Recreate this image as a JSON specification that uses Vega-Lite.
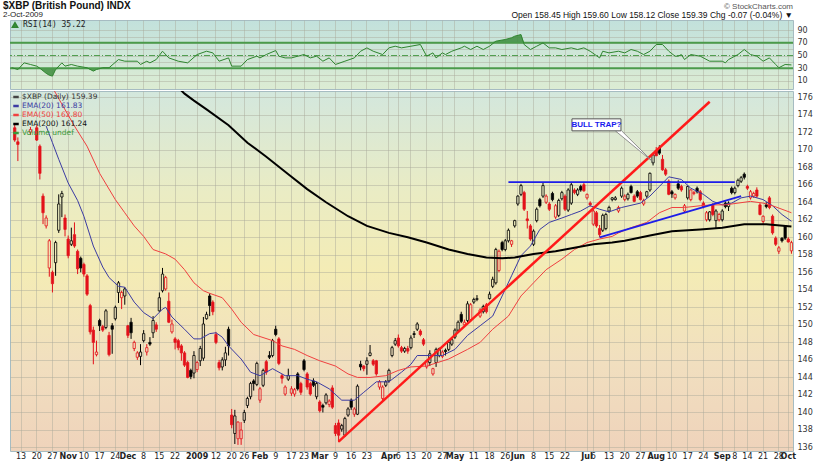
{
"$schema":"https://vega.github.io/schema/vega-lite/v6.json",
"background":"#ffffff",
"padding":{"left":3,"top":1,"right":4,"bottom":0},
"title":{"text":"$XBP (British Pound) INDX","subtitle":"2-Oct-2009","anchor":"start","frame":"group","font":"Liberation Sans","fontSize":10,"fontWeight":"bold","color":"#111111","subtitleFont":"Liberation Sans","subtitleFontSize":8,"subtitleColor":"#222222","subtitlePadding":0,"offset":-17,"dx":-7},
"spacing":0,
"resolve":{"scale":{"x":"shared","color":"independent"},"axis":{"x":"independent"},"legend":{"color":"independent"}},
"datasets":{
"candles":[
{"d":"2008-10-08","o":177.2,"h":178.4,"l":176.9,"c":177.8},
{"d":"2008-10-09","o":172.5,"h":173.0,"l":170.9,"c":171.1},
{"d":"2008-10-10","o":170.9,"h":171.4,"l":168.7,"c":170.6},
{"d":"2008-10-13","o":177.2,"h":178.6,"l":176.9,"c":178.0},
{"d":"2008-10-14","o":178.0,"h":179.0,"l":177.0,"c":177.4},
{"d":"2008-10-15","o":177.4,"h":177.8,"l":176.9,"c":177.0},
{"d":"2008-10-16","o":172.0,"h":172.6,"l":171.7,"c":172.3},
{"d":"2008-10-17","o":177.0,"h":177.6,"l":176.8,"c":177.3},
{"d":"2008-10-20","o":172.5,"h":172.8,"l":171.0,"c":171.1},
{"d":"2008-10-21","o":170.4,"h":170.6,"l":166.6,"c":167.3},
{"d":"2008-10-22","o":164.7,"h":165.0,"l":161.5,"c":162.8},
{"d":"2008-10-23","o":161.3,"h":162.5,"l":161.0,"c":162.2},
{"d":"2008-10-24","o":156.5,"h":159.8,"l":155.5,"c":159.6},
{"d":"2008-10-27","o":156.0,"h":156.2,"l":153.7,"c":154.7},
{"d":"2008-10-28","o":157.1,"h":159.6,"l":155.6,"c":159.4},
{"d":"2008-10-29","o":160.8,"h":164.9,"l":160.5,"c":163.8},
{"d":"2008-10-30","o":164.6,"h":165.3,"l":162.3,"c":165.0},
{"d":"2008-10-31","o":162.2,"h":162.6,"l":160.1,"c":160.9},
{"d":"2008-11-03","o":159.8,"h":160.2,"l":157.6,"c":157.9},
{"d":"2008-11-04","o":159.2,"h":161.1,"l":159.0,"c":159.6},
{"d":"2008-11-05","o":160.3,"h":161.7,"l":158.8,"c":159.0},
{"d":"2008-11-06","o":158.4,"h":158.6,"l":155.8,"c":156.4},
{"d":"2008-11-07","o":157.6,"h":157.8,"l":156.0,"c":156.5},
{"d":"2008-11-10","o":156.9,"h":157.1,"l":155.5,"c":155.8},
{"d":"2008-11-11","o":155.6,"h":155.8,"l":153.3,"c":153.5},
{"d":"2008-11-12","o":152.2,"h":152.4,"l":148.9,"c":149.2},
{"d":"2008-11-13","o":149.4,"h":149.8,"l":145.5,"c":148.0},
{"d":"2008-11-14","o":146.6,"h":148.2,"l":146.4,"c":146.9},
{"d":"2008-11-17","o":150.5,"h":150.7,"l":149.3,"c":149.9},
{"d":"2008-11-18","o":149.8,"h":150.0,"l":149.2,"c":149.4},
{"d":"2008-11-19","o":149.7,"h":151.8,"l":149.5,"c":151.6},
{"d":"2008-11-20","o":148.8,"h":149.2,"l":146.4,"c":146.6},
{"d":"2008-11-21","o":149.9,"h":150.2,"l":146.7,"c":149.5},
{"d":"2008-11-24","o":150.7,"h":152.2,"l":150.5,"c":152.0},
{"d":"2008-11-25","o":153.7,"h":155.0,"l":152.5,"c":154.8},
{"d":"2008-11-26","o":153.1,"h":153.9,"l":151.8,"c":153.7},
{"d":"2008-11-28","o":153.3,"h":154.3,"l":152.3,"c":154.1},
{"d":"2008-12-01","o":149.9,"h":150.0,"l":148.5,"c":148.8},
{"d":"2008-12-02","o":150.3,"h":150.8,"l":148.4,"c":149.1},
{"d":"2008-12-03","o":147.3,"h":148.2,"l":147.0,"c":148.0},
{"d":"2008-12-04","o":146.3,"h":147.0,"l":146.0,"c":146.8},
{"d":"2008-12-05","o":146.4,"h":147.8,"l":145.4,"c":146.9},
{"d":"2008-12-08","o":148.2,"h":149.4,"l":148.0,"c":149.0},
{"d":"2008-12-09","o":146.9,"h":147.8,"l":146.5,"c":147.4},
{"d":"2008-12-10","o":148.0,"h":148.6,"l":147.6,"c":147.8},
{"d":"2008-12-11","o":149.1,"h":151.0,"l":148.5,"c":150.5},
{"d":"2008-12-12","o":150.0,"h":150.3,"l":149.2,"c":149.5},
{"d":"2008-12-15","o":151.6,"h":153.7,"l":151.5,"c":153.1},
{"d":"2008-12-16","o":153.9,"h":156.5,"l":153.7,"c":155.8},
{"d":"2008-12-17","o":154.1,"h":155.6,"l":153.9,"c":155.4},
{"d":"2008-12-18","o":152.7,"h":153.7,"l":150.2,"c":150.3},
{"d":"2008-12-19","o":149.2,"h":150.6,"l":149.0,"c":150.1},
{"d":"2008-12-22","o":148.4,"h":148.6,"l":147.2,"c":148.0},
{"d":"2008-12-23","o":148.2,"h":148.4,"l":147.1,"c":147.4},
{"d":"2008-12-24","o":147.6,"h":147.8,"l":145.9,"c":146.8},
{"d":"2008-12-26","o":146.8,"h":147.0,"l":145.2,"c":145.4},
{"d":"2008-12-29","o":145.7,"h":145.9,"l":143.9,"c":144.0},
{"d":"2008-12-30","o":144.8,"h":145.0,"l":143.8,"c":144.1},
{"d":"2008-12-31","o":144.5,"h":147.0,"l":143.9,"c":146.5},
{"d":"2009-01-02","o":144.9,"h":145.9,"l":144.6,"c":145.7},
{"d":"2009-01-05","o":145.9,"h":147.6,"l":145.3,"c":147.3},
{"d":"2009-01-06","o":146.2,"h":150.9,"l":145.9,"c":150.1},
{"d":"2009-01-07","o":150.7,"h":151.5,"l":150.6,"c":151.2},
{"d":"2009-01-08","o":153.3,"h":153.6,"l":151.0,"c":152.2},
{"d":"2009-01-09","o":152.6,"h":152.8,"l":151.1,"c":151.5},
{"d":"2009-01-12","o":148.9,"h":149.2,"l":147.8,"c":148.0},
{"d":"2009-01-13","o":145.7,"h":146.0,"l":144.8,"c":145.1},
{"d":"2009-01-14","o":145.2,"h":146.3,"l":144.8,"c":146.0},
{"d":"2009-01-15","o":146.0,"h":147.5,"l":145.3,"c":146.8},
{"d":"2009-01-16","o":149.5,"h":149.8,"l":146.5,"c":147.6},
{"d":"2009-01-20","o":139.7,"h":140.4,"l":138.2,"c":138.6},
{"d":"2009-01-21","o":137.6,"h":140.3,"l":136.4,"c":139.6},
{"d":"2009-01-22","o":137.0,"h":139.0,"l":136.3,"c":138.9},
{"d":"2009-01-23","o":137.0,"h":138.9,"l":136.3,"c":138.0},
{"d":"2009-01-26","o":139.1,"h":140.3,"l":138.8,"c":140.0},
{"d":"2009-01-27","o":140.8,"h":141.8,"l":140.5,"c":141.6},
{"d":"2009-01-28","o":141.8,"h":143.5,"l":141.5,"c":143.3},
{"d":"2009-01-29","o":143.6,"h":143.8,"l":142.5,"c":143.3},
{"d":"2009-01-30","o":143.2,"h":145.8,"l":143.0,"c":145.6},
{"d":"2009-02-02","o":141.4,"h":142.9,"l":141.1,"c":142.7},
{"d":"2009-02-03","o":143.1,"h":145.0,"l":142.9,"c":144.8},
{"d":"2009-02-04","o":145.8,"h":146.0,"l":144.3,"c":144.6},
{"d":"2009-02-05","o":146.5,"h":147.0,"l":146.1,"c":146.3},
{"d":"2009-02-06","o":146.5,"h":148.4,"l":146.3,"c":148.2},
{"d":"2009-02-09","o":149.5,"h":149.9,"l":148.7,"c":148.9},
{"d":"2009-02-10","o":148.4,"h":148.6,"l":145.4,"c":145.6},
{"d":"2009-02-11","o":144.2,"h":144.4,"l":143.3,"c":143.9},
{"d":"2009-02-12","o":142.1,"h":143.1,"l":141.9,"c":142.9},
{"d":"2009-02-13","o":143.8,"h":145.0,"l":143.6,"c":144.2},
{"d":"2009-02-17","o":142.2,"h":143.0,"l":141.9,"c":142.7},
{"d":"2009-02-18","o":142.1,"h":142.8,"l":141.8,"c":142.6},
{"d":"2009-02-19","o":144.4,"h":144.6,"l":142.5,"c":142.7},
{"d":"2009-02-20","o":143.3,"h":143.5,"l":142.0,"c":142.3},
{"d":"2009-02-23","o":145.9,"h":146.1,"l":144.7,"c":144.9},
{"d":"2009-02-24","o":144.4,"h":144.6,"l":142.6,"c":142.9},
{"d":"2009-02-25","o":143.3,"h":143.5,"l":141.9,"c":142.1},
{"d":"2009-02-26","o":143.6,"h":143.9,"l":142.9,"c":143.1},
{"d":"2009-02-27","o":141.8,"h":143.5,"l":141.5,"c":143.3},
{"d":"2009-03-02","o":141.2,"h":141.4,"l":140.0,"c":140.2},
{"d":"2009-03-03","o":140.8,"h":141.0,"l":140.0,"c":140.6},
{"d":"2009-03-04","o":141.1,"h":142.2,"l":140.9,"c":142.0},
{"d":"2009-03-05","o":140.9,"h":141.5,"l":140.6,"c":141.3},
{"d":"2009-03-06","o":142.8,"h":143.1,"l":140.4,"c":140.6},
{"d":"2009-03-09","o":138.5,"h":138.8,"l":137.3,"c":137.6},
{"d":"2009-03-10","o":138.8,"h":139.2,"l":136.6,"c":137.4},
{"d":"2009-03-11","o":138.1,"h":138.7,"l":137.8,"c":138.5},
{"d":"2009-03-12","o":137.4,"h":139.5,"l":137.2,"c":139.3},
{"d":"2009-03-13","o":139.7,"h":140.6,"l":139.5,"c":140.4},
{"d":"2009-03-16","o":141.4,"h":141.6,"l":140.3,"c":140.6},
{"d":"2009-03-17","o":139.8,"h":140.6,"l":139.5,"c":140.4},
{"d":"2009-03-18","o":139.8,"h":143.2,"l":139.7,"c":143.0},
{"d":"2009-03-19","o":145.5,"h":145.9,"l":144.8,"c":145.2},
{"d":"2009-03-20","o":145.3,"h":145.4,"l":144.7,"c":145.0},
{"d":"2009-03-23","o":145.5,"h":146.3,"l":144.3,"c":145.9},
{"d":"2009-03-24","o":146.5,"h":147.7,"l":146.4,"c":146.8},
{"d":"2009-03-25","o":145.9,"h":146.1,"l":145.3,"c":145.5},
{"d":"2009-03-26","o":145.9,"h":146.0,"l":144.2,"c":144.4},
{"d":"2009-03-27","o":142.9,"h":143.7,"l":142.6,"c":143.5},
{"d":"2009-03-30","o":141.6,"h":143.1,"l":141.3,"c":142.9},
{"d":"2009-03-31","o":143.1,"h":143.7,"l":142.9,"c":143.5},
{"d":"2009-04-01","o":143.6,"h":145.0,"l":143.4,"c":144.8},
{"d":"2009-04-02","o":146.5,"h":147.6,"l":146.3,"c":147.4},
{"d":"2009-04-03","o":147.8,"h":148.5,"l":147.6,"c":148.2},
{"d":"2009-04-06","o":148.5,"h":148.9,"l":147.4,"c":147.6},
{"d":"2009-04-07","o":147.4,"h":147.6,"l":146.8,"c":147.0},
{"d":"2009-04-08","o":147.0,"h":147.5,"l":146.8,"c":147.3},
{"d":"2009-04-09","o":147.3,"h":147.6,"l":146.7,"c":147.0},
{"d":"2009-04-13","o":147.4,"h":148.8,"l":147.2,"c":148.5},
{"d":"2009-04-14","o":149.0,"h":149.3,"l":148.5,"c":148.9},
{"d":"2009-04-15","o":149.5,"h":150.3,"l":149.3,"c":150.1},
{"d":"2009-04-16","o":149.3,"h":149.5,"l":148.7,"c":148.9},
{"d":"2009-04-17","o":148.3,"h":148.5,"l":147.6,"c":147.8},
{"d":"2009-04-20","o":145.2,"h":146.0,"l":145.0,"c":145.9},
{"d":"2009-04-21","o":145.7,"h":147.1,"l":145.3,"c":146.7},
{"d":"2009-04-22","o":144.4,"h":145.1,"l":144.2,"c":145.0},
{"d":"2009-04-23","o":145.7,"h":147.4,"l":145.2,"c":147.2},
{"d":"2009-04-24","o":146.5,"h":147.4,"l":146.3,"c":147.3},
{"d":"2009-04-27","o":146.4,"h":147.1,"l":146.2,"c":146.9},
{"d":"2009-04-28","o":147.1,"h":147.3,"l":146.5,"c":146.95},
{"d":"2009-04-29","o":147.2,"h":148.2,"l":147.0,"c":148.0},
{"d":"2009-04-30","o":147.8,"h":148.6,"l":147.6,"c":148.3},
{"d":"2009-05-01","o":148.6,"h":149.6,"l":148.4,"c":149.4},
{"d":"2009-05-04","o":149.4,"h":150.5,"l":149.2,"c":150.3},
{"d":"2009-05-05","o":151.2,"h":151.5,"l":150.2,"c":150.4},
{"d":"2009-05-06","o":150.0,"h":150.6,"l":149.8,"c":150.3},
{"d":"2009-05-07","o":150.5,"h":152.7,"l":150.3,"c":152.4},
{"d":"2009-05-08","o":150.6,"h":152.5,"l":150.4,"c":152.3},
{"d":"2009-05-11","o":152.6,"h":153.1,"l":152.4,"c":152.9},
{"d":"2009-05-12","o":152.9,"h":153.4,"l":152.7,"c":153.0},
{"d":"2009-05-13","o":151.0,"h":151.9,"l":150.8,"c":151.7},
{"d":"2009-05-14","o":151.5,"h":152.3,"l":151.3,"c":152.1},
{"d":"2009-05-15","o":152.3,"h":152.5,"l":151.3,"c":151.5},
{"d":"2009-05-18","o":153.0,"h":153.8,"l":152.9,"c":153.5},
{"d":"2009-05-19","o":154.4,"h":155.5,"l":154.2,"c":155.2},
{"d":"2009-05-20","o":154.8,"h":158.8,"l":154.6,"c":158.6},
{"d":"2009-05-21","o":156.2,"h":158.6,"l":156.0,"c":158.4},
{"d":"2009-05-22","o":159.4,"h":159.6,"l":158.4,"c":158.6},
{"d":"2009-05-26","o":158.6,"h":159.8,"l":158.4,"c":159.6},
{"d":"2009-05-27","o":159.6,"h":161.0,"l":159.4,"c":160.8},
{"d":"2009-05-28","o":159.2,"h":159.7,"l":158.9,"c":159.6},
{"d":"2009-05-29","o":161.3,"h":162.0,"l":161.1,"c":161.9},
{"d":"2009-06-01","o":163.8,"h":164.8,"l":163.6,"c":164.7},
{"d":"2009-06-02","o":164.9,"h":166.1,"l":164.7,"c":165.9},
{"d":"2009-06-03","o":165.1,"h":165.3,"l":163.0,"c":163.2},
{"d":"2009-06-04","o":162.1,"h":163.0,"l":161.0,"c":161.9},
{"d":"2009-06-05","o":161.3,"h":161.5,"l":159.6,"c":159.8},
{"d":"2009-06-08","o":159.2,"h":160.9,"l":159.0,"c":160.7},
{"d":"2009-06-09","o":161.9,"h":163.4,"l":161.7,"c":163.2},
{"d":"2009-06-10","o":164.3,"h":164.5,"l":163.4,"c":163.6},
{"d":"2009-06-11","o":164.7,"h":166.3,"l":164.5,"c":165.9},
{"d":"2009-06-12","o":164.0,"h":164.9,"l":163.8,"c":164.7},
{"d":"2009-06-15","o":163.8,"h":164.0,"l":163.0,"c":163.2},
{"d":"2009-06-16","o":165.0,"h":165.2,"l":164.1,"c":164.3},
{"d":"2009-06-17","o":162.3,"h":163.8,"l":162.1,"c":163.6},
{"d":"2009-06-18","o":162.5,"h":164.4,"l":162.3,"c":164.2},
{"d":"2009-06-19","o":164.4,"h":165.3,"l":164.2,"c":165.1},
{"d":"2009-06-22","o":164.7,"h":164.9,"l":163.0,"c":163.2},
{"d":"2009-06-23","o":163.1,"h":165.6,"l":162.9,"c":165.4},
{"d":"2009-06-24","o":163.9,"h":166.2,"l":163.7,"c":166.0},
{"d":"2009-06-25","o":165.4,"h":165.6,"l":164.9,"c":165.1},
{"d":"2009-06-26","o":164.9,"h":165.6,"l":164.7,"c":165.4},
{"d":"2009-06-29","o":165.8,"h":166.0,"l":165.2,"c":165.4},
{"d":"2009-06-30","o":166.0,"h":166.3,"l":165.2,"c":165.3},
{"d":"2009-07-01","o":164.5,"h":165.0,"l":164.3,"c":164.9},
{"d":"2009-07-02","o":163.9,"h":164.1,"l":163.5,"c":163.7},
{"d":"2009-07-06","o":161.5,"h":163.2,"l":161.3,"c":163.0},
{"d":"2009-07-07","o":162.8,"h":163.0,"l":161.1,"c":161.3},
{"d":"2009-07-08","o":161.0,"h":161.4,"l":160.0,"c":160.3},
{"d":"2009-07-09","o":160.8,"h":162.7,"l":160.6,"c":162.5},
{"d":"2009-07-10","o":161.0,"h":162.8,"l":160.8,"c":162.6},
{"d":"2009-07-13","o":163.0,"h":163.6,"l":162.8,"c":163.4},
{"d":"2009-07-14","o":164.3,"h":164.6,"l":164.1,"c":164.5},
{"d":"2009-07-15","o":164.3,"h":164.7,"l":164.2,"c":164.5},
{"d":"2009-07-16","o":163.0,"h":163.6,"l":162.8,"c":163.4},
{"d":"2009-07-17","o":164.7,"h":165.8,"l":164.5,"c":165.6},
{"d":"2009-07-20","o":164.3,"h":164.9,"l":164.1,"c":164.7},
{"d":"2009-07-21","o":164.4,"h":165.1,"l":164.2,"c":164.9},
{"d":"2009-07-22","o":165.8,"h":166.0,"l":165.0,"c":165.1},
{"d":"2009-07-23","o":164.7,"h":164.9,"l":164.0,"c":164.1},
{"d":"2009-07-24","o":165.2,"h":165.4,"l":164.5,"c":164.7},
{"d":"2009-07-27","o":165.1,"h":165.3,"l":164.2,"c":164.3},
{"d":"2009-07-28","o":163.8,"h":164.4,"l":163.6,"c":164.2},
{"d":"2009-07-29","o":164.7,"h":165.3,"l":164.5,"c":165.2},
{"d":"2009-07-30","o":165.4,"h":167.4,"l":165.2,"c":167.3},
{"d":"2009-07-31","o":168.5,"h":169.6,"l":168.2,"c":169.4},
{"d":"2009-08-03","o":169.9,"h":170.3,"l":169.3,"c":169.3},
{"d":"2009-08-04","o":170.2,"h":170.5,"l":169.4,"c":169.6},
{"d":"2009-08-05","o":168.9,"h":169.4,"l":167.6,"c":167.7},
{"d":"2009-08-06","o":167.7,"h":167.9,"l":167.0,"c":167.2},
{"d":"2009-08-07","o":166.4,"h":166.6,"l":164.8,"c":164.9},
{"d":"2009-08-10","o":165.2,"h":165.4,"l":164.5,"c":164.95},
{"d":"2009-08-11","o":164.5,"h":165.0,"l":164.3,"c":164.9},
{"d":"2009-08-12","o":166.1,"h":166.5,"l":165.4,"c":165.6},
{"d":"2009-08-13","o":165.8,"h":166.0,"l":165.2,"c":165.4},
{"d":"2009-08-14","o":163.0,"h":163.8,"l":162.8,"c":163.6},
{"d":"2009-08-17","o":164.5,"h":165.9,"l":164.3,"c":165.8},
{"d":"2009-08-18","o":164.3,"h":165.5,"l":164.1,"c":165.4},
{"d":"2009-08-19","o":165.0,"h":165.3,"l":164.8,"c":165.1},
{"d":"2009-08-20","o":165.6,"h":165.8,"l":165.0,"c":165.2},
{"d":"2009-08-21","o":165.2,"h":165.4,"l":164.1,"c":164.3},
{"d":"2009-08-24","o":163.9,"h":164.1,"l":163.3,"c":163.5},
{"d":"2009-08-25","o":162.0,"h":163.0,"l":161.8,"c":162.8},
{"d":"2009-08-26","o":162.0,"h":163.0,"l":161.8,"c":162.9},
{"d":"2009-08-27","o":163.7,"h":163.9,"l":162.4,"c":162.6},
{"d":"2009-08-28","o":161.9,"h":163.2,"l":161.0,"c":163.0},
{"d":"2009-08-31","o":162.0,"h":162.8,"l":161.8,"c":162.6},
{"d":"2009-09-01","o":162.0,"h":163.2,"l":161.8,"c":163.0},
{"d":"2009-09-02","o":163.9,"h":164.1,"l":163.3,"c":163.5},
{"d":"2009-09-03","o":163.5,"h":164.1,"l":163.0,"c":163.9},
{"d":"2009-09-04","o":165.6,"h":165.8,"l":164.9,"c":165.1},
{"d":"2009-09-08","o":165.1,"h":165.8,"l":164.9,"c":165.6},
{"d":"2009-09-09","o":165.9,"h":166.7,"l":165.7,"c":166.5},
{"d":"2009-09-10","o":166.4,"h":167.0,"l":166.2,"c":166.8},
{"d":"2009-09-11","o":167.2,"h":167.4,"l":166.6,"c":166.85},
{"d":"2009-09-14","o":165.8,"h":166.0,"l":165.4,"c":165.6},
{"d":"2009-09-15","o":164.5,"h":165.4,"l":164.3,"c":165.2},
{"d":"2009-09-16","o":164.7,"h":165.2,"l":164.5,"c":165.0},
{"d":"2009-09-17","o":165.4,"h":165.7,"l":164.5,"c":164.7},
{"d":"2009-09-18","o":163.7,"h":163.9,"l":162.5,"c":162.6},
{"d":"2009-09-21","o":161.8,"h":162.5,"l":161.5,"c":162.4},
{"d":"2009-09-22","o":163.7,"h":164.0,"l":163.3,"c":163.5},
{"d":"2009-09-23","o":164.5,"h":164.7,"l":163.2,"c":163.4},
{"d":"2009-09-24","o":162.4,"h":162.6,"l":160.3,"c":160.5},
{"d":"2009-09-25","o":159.9,"h":160.1,"l":159.0,"c":159.2},
{"d":"2009-09-28","o":158.4,"h":159.0,"l":158.1,"c":158.8},
{"d":"2009-09-29","o":159.9,"h":160.0,"l":159.4,"c":159.6},
{"d":"2009-09-30","o":161.3,"h":161.4,"l":159.7,"c":159.9},
{"d":"2009-10-01","o":159.8,"h":160.0,"l":159.4,"c":159.46},
{"d":"2009-10-02","o":158.45,"h":159.6,"l":158.12,"c":159.39}
],
"ema":[
{"d":"2008-10-23","s":"EMA(20) 161.83","v":172.7},{"d":"2008-10-27","s":"EMA(20) 161.83","v":170.8},{"d":"2008-10-29","s":"EMA(20) 161.83","v":168.9},{"d":"2008-11-03","s":"EMA(20) 161.83","v":166.2},{"d":"2008-11-06","s":"EMA(20) 161.83","v":164.2},{"d":"2008-11-10","s":"EMA(20) 161.83","v":162.4},{"d":"2008-11-13","s":"EMA(20) 161.83","v":159.0},{"d":"2008-11-18","s":"EMA(20) 161.83","v":156.6},{"d":"2008-11-20","s":"EMA(20) 161.83","v":155.4},{"d":"2008-11-25","s":"EMA(20) 161.83","v":154.4},{"d":"2008-11-28","s":"EMA(20) 161.83","v":154.3},{"d":"2008-12-03","s":"EMA(20) 161.83","v":152.6},{"d":"2008-12-08","s":"EMA(20) 161.83","v":151.4},{"d":"2008-12-11","s":"EMA(20) 161.83","v":150.7},{"d":"2008-12-16","s":"EMA(20) 161.83","v":151.8},{"d":"2008-12-17","s":"EMA(20) 161.83","v":152.0},{"d":"2008-12-19","s":"EMA(20) 161.83","v":150.9},{"d":"2008-12-26","s":"EMA(20) 161.83","v":149.5},{"d":"2008-12-31","s":"EMA(20) 161.83","v":148.4},{"d":"2009-01-05","s":"EMA(20) 161.83","v":148.4},{"d":"2009-01-08","s":"EMA(20) 161.83","v":149.0},{"d":"2009-01-12","s":"EMA(20) 161.83","v":149.1},{"d":"2009-01-14","s":"EMA(20) 161.83","v":148.6},{"d":"2009-01-16","s":"EMA(20) 161.83","v":147.6},{"d":"2009-01-23","s":"EMA(20) 161.83","v":146.1},{"d":"2009-01-28","s":"EMA(20) 161.83","v":144.6},{"d":"2009-02-02","s":"EMA(20) 161.83","v":144.2},{"d":"2009-02-06","s":"EMA(20) 161.83","v":145.0},{"d":"2009-02-12","s":"EMA(20) 161.83","v":144.2},{"d":"2009-02-19","s":"EMA(20) 161.83","v":144.2},{"d":"2009-02-24","s":"EMA(20) 161.83","v":143.8},{"d":"2009-02-27","s":"EMA(20) 161.83","v":143.5},{"d":"2009-03-05","s":"EMA(20) 161.83","v":142.7},{"d":"2009-03-11","s":"EMA(20) 161.83","v":141.4},{"d":"2009-03-17","s":"EMA(20) 161.83","v":141.4},{"d":"2009-03-20","s":"EMA(20) 161.83","v":142.3},{"d":"2009-03-26","s":"EMA(20) 161.83","v":143.5},{"d":"2009-04-01","s":"EMA(20) 161.83","v":143.5},{"d":"2009-04-07","s":"EMA(20) 161.83","v":144.6},{"d":"2009-04-13","s":"EMA(20) 161.83","v":145.5},{"d":"2009-04-15","s":"EMA(20) 161.83","v":146.5},{"d":"2009-04-21","s":"EMA(20) 161.83","v":146.5},{"d":"2009-04-27","s":"EMA(20) 161.83","v":146.5},{"d":"2009-05-01","s":"EMA(20) 161.83","v":147.2},{"d":"2009-05-07","s":"EMA(20) 161.83","v":148.8},{"d":"2009-05-13","s":"EMA(20) 161.83","v":149.9},{"d":"2009-05-19","s":"EMA(20) 161.83","v":151.0},{"d":"2009-05-22","s":"EMA(20) 161.83","v":153.3},{"d":"2009-05-28","s":"EMA(20) 161.83","v":155.6},{"d":"2009-06-02","s":"EMA(20) 161.83","v":157.9},{"d":"2009-06-05","s":"EMA(20) 161.83","v":159.0},{"d":"2009-06-10","s":"EMA(20) 161.83","v":160.9},{"d":"2009-06-15","s":"EMA(20) 161.83","v":161.7},{"d":"2009-06-19","s":"EMA(20) 161.83","v":162.2},{"d":"2009-06-24","s":"EMA(20) 161.83","v":162.6},{"d":"2009-06-29","s":"EMA(20) 161.83","v":163.0},{"d":"2009-07-02","s":"EMA(20) 161.83","v":163.6},{"d":"2009-07-08","s":"EMA(20) 161.83","v":163.2},{"d":"2009-07-13","s":"EMA(20) 161.83","v":162.9},{"d":"2009-07-17","s":"EMA(20) 161.83","v":163.4},{"d":"2009-07-27","s":"EMA(20) 161.83","v":163.9},{"d":"2009-07-30","s":"EMA(20) 161.83","v":164.7},{"d":"2009-08-04","s":"EMA(20) 161.83","v":165.8},{"d":"2009-08-07","s":"EMA(20) 161.83","v":166.9},{"d":"2009-08-13","s":"EMA(20) 161.83","v":166.6},{"d":"2009-08-18","s":"EMA(20) 161.83","v":165.6},{"d":"2009-08-24","s":"EMA(20) 161.83","v":164.9},{"d":"2009-08-27","s":"EMA(20) 161.83","v":164.1},{"d":"2009-09-01","s":"EMA(20) 161.83","v":163.7},{"d":"2009-09-04","s":"EMA(20) 161.83","v":163.9},{"d":"2009-09-10","s":"EMA(20) 161.83","v":164.5},{"d":"2009-09-15","s":"EMA(20) 161.83","v":164.7},{"d":"2009-09-21","s":"EMA(20) 161.83","v":164.3},{"d":"2009-09-24","s":"EMA(20) 161.83","v":163.6},{"d":"2009-09-29","s":"EMA(20) 161.83","v":162.6},{"d":"2009-10-02","s":"EMA(20) 161.83","v":161.83},
{"d":"2008-10-27","s":"EMA(50) 162.80","v":177.1},{"d":"2008-10-30","s":"EMA(50) 162.80","v":175.2},{"d":"2008-11-05","s":"EMA(50) 162.80","v":172.7},{"d":"2008-11-11","s":"EMA(50) 162.80","v":170.4},{"d":"2008-11-17","s":"EMA(50) 162.80","v":167.3},{"d":"2008-11-24","s":"EMA(50) 162.80","v":164.3},{"d":"2008-11-28","s":"EMA(50) 162.80","v":162.8},{"d":"2008-12-03","s":"EMA(50) 162.80","v":161.3},{"d":"2008-12-08","s":"EMA(50) 162.80","v":160.1},{"d":"2008-12-11","s":"EMA(50) 162.80","v":158.6},{"d":"2008-12-17","s":"EMA(50) 162.80","v":158.1},{"d":"2008-12-22","s":"EMA(50) 162.80","v":157.5},{"d":"2008-12-26","s":"EMA(50) 162.80","v":156.3},{"d":"2008-12-31","s":"EMA(50) 162.80","v":154.8},{"d":"2009-01-06","s":"EMA(50) 162.80","v":153.9},{"d":"2009-01-08","s":"EMA(50) 162.80","v":153.6},{"d":"2009-01-14","s":"EMA(50) 162.80","v":153.1},{"d":"2009-01-20","s":"EMA(50) 162.80","v":151.8},{"d":"2009-01-23","s":"EMA(50) 162.80","v":150.3},{"d":"2009-01-29","s":"EMA(50) 162.80","v":148.9},{"d":"2009-02-06","s":"EMA(50) 162.80","v":148.2},{"d":"2009-02-11","s":"EMA(50) 162.80","v":147.6},{"d":"2009-02-18","s":"EMA(50) 162.80","v":147.2},{"d":"2009-02-24","s":"EMA(50) 162.80","v":146.5},{"d":"2009-03-02","s":"EMA(50) 162.80","v":145.9},{"d":"2009-03-09","s":"EMA(50) 162.80","v":145.3},{"d":"2009-03-13","s":"EMA(50) 162.80","v":144.4},{"d":"2009-03-18","s":"EMA(50) 162.80","v":144.0},{"d":"2009-03-24","s":"EMA(50) 162.80","v":144.0},{"d":"2009-03-31","s":"EMA(50) 162.80","v":144.2},{"d":"2009-04-06","s":"EMA(50) 162.80","v":144.8},{"d":"2009-04-13","s":"EMA(50) 162.80","v":145.2},{"d":"2009-04-20","s":"EMA(50) 162.80","v":145.3},{"d":"2009-04-29","s":"EMA(50) 162.80","v":146.1},{"d":"2009-05-07","s":"EMA(50) 162.80","v":147.2},{"d":"2009-05-13","s":"EMA(50) 162.80","v":148.0},{"d":"2009-05-19","s":"EMA(50) 162.80","v":149.5},{"d":"2009-05-27","s":"EMA(50) 162.80","v":151.0},{"d":"2009-06-02","s":"EMA(50) 162.80","v":153.3},{"d":"2009-06-08","s":"EMA(50) 162.80","v":154.8},{"d":"2009-06-12","s":"EMA(50) 162.80","v":156.3},{"d":"2009-06-19","s":"EMA(50) 162.80","v":157.5},{"d":"2009-06-25","s":"EMA(50) 162.80","v":158.6},{"d":"2009-07-01","s":"EMA(50) 162.80","v":159.4},{"d":"2009-07-08","s":"EMA(50) 162.80","v":159.8},{"d":"2009-07-14","s":"EMA(50) 162.80","v":160.1},{"d":"2009-07-16","s":"EMA(50) 162.80","v":160.5},{"d":"2009-07-22","s":"EMA(50) 162.80","v":161.1},{"d":"2009-07-29","s":"EMA(50) 162.80","v":161.7},{"d":"2009-08-04","s":"EMA(50) 162.80","v":162.8},{"d":"2009-08-10","s":"EMA(50) 162.80","v":163.4},{"d":"2009-08-14","s":"EMA(50) 162.80","v":163.4},{"d":"2009-08-21","s":"EMA(50) 162.80","v":163.6},{"d":"2009-08-27","s":"EMA(50) 162.80","v":163.7},{"d":"2009-09-02","s":"EMA(50) 162.80","v":163.7},{"d":"2009-09-09","s":"EMA(50) 162.80","v":163.9},{"d":"2009-09-15","s":"EMA(50) 162.80","v":164.1},{"d":"2009-09-21","s":"EMA(50) 162.80","v":163.9},{"d":"2009-09-24","s":"EMA(50) 162.80","v":163.6},{"d":"2009-09-29","s":"EMA(50) 162.80","v":163.2},{"d":"2009-10-02","s":"EMA(50) 162.80","v":162.8},
{"d":"2008-12-23","s":"EMA(200) 161.24","v":177.1},{"d":"2008-12-26","s":"EMA(200) 161.24","v":176.4},{"d":"2008-12-31","s":"EMA(200) 161.24","v":175.6},{"d":"2009-01-07","s":"EMA(200) 161.24","v":174.6},{"d":"2009-01-16","s":"EMA(200) 161.24","v":172.8},{"d":"2009-01-27","s":"EMA(200) 161.24","v":170.8},{"d":"2009-02-04","s":"EMA(200) 161.24","v":169.2},{"d":"2009-02-13","s":"EMA(200) 161.24","v":167.2},{"d":"2009-02-24","s":"EMA(200) 161.24","v":165.5},{"d":"2009-03-04","s":"EMA(200) 161.24","v":164.0},{"d":"2009-03-13","s":"EMA(200) 161.24","v":162.4},{"d":"2009-03-23","s":"EMA(200) 161.24","v":161.3},{"d":"2009-04-01","s":"EMA(200) 161.24","v":160.5},{"d":"2009-04-09","s":"EMA(200) 161.24","v":160.0},{"d":"2009-04-20","s":"EMA(200) 161.24","v":159.4},{"d":"2009-04-29","s":"EMA(200) 161.24","v":158.6},{"d":"2009-05-07","s":"EMA(200) 161.24","v":158.1},{"d":"2009-05-15","s":"EMA(200) 161.24","v":157.7},{"d":"2009-05-22","s":"EMA(200) 161.24","v":157.6},{"d":"2009-05-29","s":"EMA(200) 161.24","v":157.7},{"d":"2009-06-08","s":"EMA(200) 161.24","v":158.1},{"d":"2009-06-17","s":"EMA(200) 161.24","v":158.4},{"d":"2009-06-25","s":"EMA(200) 161.24","v":158.8},{"d":"2009-07-06","s":"EMA(200) 161.24","v":159.2},{"d":"2009-07-14","s":"EMA(200) 161.24","v":159.4},{"d":"2009-07-20","s":"EMA(200) 161.24","v":159.6},{"d":"2009-07-30","s":"EMA(200) 161.24","v":160.2},{"d":"2009-08-10","s":"EMA(200) 161.24","v":160.7},{"d":"2009-08-21","s":"EMA(200) 161.24","v":160.9},{"d":"2009-09-01","s":"EMA(200) 161.24","v":161.1},{"d":"2009-09-11","s":"EMA(200) 161.24","v":161.5},{"d":"2009-09-22","s":"EMA(200) 161.24","v":161.5},{"d":"2009-10-02","s":"EMA(200) 161.24","v":161.24}
],
"trend":[
{"d":"2009-03-10","v":136.67,"g":"up"},{"d":"2009-08-26","v":175.47,"g":"up"},
{"d":"2009-05-27","v":166.3,"g":"hz"},{"d":"2009-09-08","v":166.3,"g":"hz"},
{"d":"2009-07-08","v":160.0,"g":"rise"},{"d":"2009-09-10","v":164.7,"g":"rise"}
],
"pointer":[
{"d":"2009-07-15","v":172.15,"k":1},{"d":"2009-07-31","v":168.6,"k":2},{"d":"2009-07-17","v":172.15,"k":3}
],
"note":[{"d":"2009-07-07","v1":173.52,"v2":172.15,"vm":172.84,"t":"BULL TRAP?"}],
"rsi":[
{"d":"2008-10-08","r":31},{"d":"2008-10-10","r":28},{"d":"2008-10-14","r":38.5},{"d":"2008-10-16","r":35.9},{"d":"2008-10-20","r":33.3},{"d":"2008-10-21","r":30},{"d":"2008-10-22","r":26},{"d":"2008-10-23","r":22},{"d":"2008-10-24","r":19},{"d":"2008-10-27","r":17.6},{"d":"2008-10-28","r":28},{"d":"2008-10-30","r":38.5},{"d":"2008-10-31","r":33.3},{"d":"2008-11-04","r":35.9},{"d":"2008-11-06","r":33.3},{"d":"2008-11-11","r":30.8},{"d":"2008-11-13","r":25.5},{"d":"2008-11-14","r":28},{"d":"2008-11-18","r":30.8},{"d":"2008-11-20","r":30.8},{"d":"2008-11-25","r":43.7},{"d":"2008-11-28","r":41.1},{"d":"2008-12-04","r":41.1},{"d":"2008-12-05","r":35.9},{"d":"2008-12-09","r":41.1},{"d":"2008-12-10","r":38.5},{"d":"2008-12-12","r":43.7},{"d":"2008-12-16","r":56.8},{"d":"2008-12-18","r":46.3},{"d":"2008-12-23","r":41.1},{"d":"2008-12-29","r":38.5},{"d":"2009-01-02","r":51.6},{"d":"2009-01-07","r":56.8},{"d":"2009-01-09","r":54.2},{"d":"2009-01-13","r":41.1},{"d":"2009-01-16","r":46.3},{"d":"2009-01-20","r":33.3},{"d":"2009-01-23","r":33.3},{"d":"2009-01-27","r":43.7},{"d":"2009-01-30","r":49},{"d":"2009-02-02","r":46.3},{"d":"2009-02-04","r":51.6},{"d":"2009-02-09","r":57.9},{"d":"2009-02-10","r":49},{"d":"2009-02-12","r":46.3},{"d":"2009-02-17","r":46.3},{"d":"2009-02-23","r":51.6},{"d":"2009-02-25","r":46.3},{"d":"2009-02-27","r":49},{"d":"2009-03-03","r":41.1},{"d":"2009-03-05","r":46.3},{"d":"2009-03-09","r":35.9},{"d":"2009-03-12","r":41.1},{"d":"2009-03-17","r":46.3},{"d":"2009-03-19","r":56.8},{"d":"2009-03-23","r":62.1},{"d":"2009-03-25","r":56.8},{"d":"2009-03-30","r":51.6},{"d":"2009-04-01","r":62.1},{"d":"2009-04-03","r":64.7},{"d":"2009-04-07","r":62.1},{"d":"2009-04-13","r":64.7},{"d":"2009-04-16","r":67.4},{"d":"2009-04-20","r":49},{"d":"2009-04-22","r":54.2},{"d":"2009-04-23","r":46.3},{"d":"2009-04-27","r":54.2},{"d":"2009-04-28","r":51.6},{"d":"2009-04-30","r":56.8},{"d":"2009-05-05","r":62.1},{"d":"2009-05-06","r":64.7},{"d":"2009-05-08","r":59.5},{"d":"2009-05-12","r":64.7},{"d":"2009-05-14","r":59.5},{"d":"2009-05-18","r":64.7},{"d":"2009-05-20","r":72.6},{"d":"2009-05-26","r":75.3},{"d":"2009-05-28","r":78},{"d":"2009-05-29","r":80.5},{"d":"2009-06-02","r":83.1},{"d":"2009-06-03","r":67.4},{"d":"2009-06-05","r":59.5},{"d":"2009-06-09","r":64.7},{"d":"2009-06-11","r":69.9},{"d":"2009-06-15","r":62.1},{"d":"2009-06-17","r":62.1},{"d":"2009-06-19","r":59.5},{"d":"2009-06-24","r":62.1},{"d":"2009-06-26","r":59.5},{"d":"2009-06-30","r":62.1},{"d":"2009-07-02","r":56.8},{"d":"2009-07-08","r":46.3},{"d":"2009-07-09","r":56.8},{"d":"2009-07-13","r":54.2},{"d":"2009-07-16","r":56.8},{"d":"2009-07-20","r":54.2},{"d":"2009-07-22","r":59.5},{"d":"2009-07-24","r":56.8},{"d":"2009-07-28","r":51.6},{"d":"2009-07-30","r":56.8},{"d":"2009-08-03","r":67.4},{"d":"2009-08-05","r":67.4},{"d":"2009-08-07","r":56.8},{"d":"2009-08-11","r":49},{"d":"2009-08-12","r":49},{"d":"2009-08-13","r":51.6},{"d":"2009-08-14","r":43.7},{"d":"2009-08-18","r":51.6},{"d":"2009-08-21","r":49},{"d":"2009-08-26","r":41.1},{"d":"2009-09-01","r":41.1},{"d":"2009-09-02","r":38.5},{"d":"2009-09-03","r":43.7},{"d":"2009-09-09","r":51.6},{"d":"2009-09-11","r":59.5},{"d":"2009-09-15","r":51.6},{"d":"2009-09-17","r":49},{"d":"2009-09-21","r":41.1},{"d":"2009-09-23","r":46.3},{"d":"2009-09-25","r":35.9},{"d":"2009-09-28","r":30.8},{"d":"2009-09-30","r":35.9},{"d":"2009-10-02","r":35.22}
]
},
"vconcat":[
{
"width":783,"height":69,
"view":{"fill":{"gradient":"linear","x1":0,"y1":0,"x2":0,"y2":1,"stops":[{"offset":0,"color":"#c2e1dc"},{"offset":1,"color":"#dcecd3"}]},"stroke":"#a6bcc2"},
"title":{"text":"© StockCharts.com","subtitle":"Open 158.45  High 159.60  Low 158.12  Close 159.39  Chg -0.07 (-0.04%) ▼","anchor":"end","frame":"group","font":"Liberation Sans","fontSize":8,"fontWeight":"normal","color":"#555555","subtitleFont":"Liberation Sans","subtitleFontSize":8.5,"subtitleColor":"#111111","subtitlePadding":0,"offset":1},
"layer":[
{"data":{"name":"rsi"},"transform":[{"calculate":"max(datum.r,70)","as":"ra"}],
 "mark":{"type":"area","color":"#3c8c3c","opacity":0.85,"clip":true},
 "encoding":{"x":{"field":"d","type":"ordinal","title":null,"scale":{"type":"band","paddingInner":0,"paddingOuter":0}},
  "y":{"field":"ra","type":"quantitative","title":null,"scale":{"domain":[-2.7,106],"nice":false,"zero":false},"axis":{"orient":"right","values":[10,20,30,40,50,60,70,80,90],"labelExpr":"datum.value % 20 == 10 ? datum.label : ''","labelOverlap":false,"grid":true,"ticks":false,"domain":false,"title":null,"labelFontSize":8,"labelPadding":4}},"y2":{"datum":70}}},
{"data":{"name":"rsi"},"transform":[{"calculate":"min(datum.r,30)","as":"rb"}],
 "mark":{"type":"area","color":"#3c8c3c","opacity":0.85,"clip":true},
 "encoding":{"x":{"field":"d","type":"ordinal","title":null,"scale":{"type":"band","paddingInner":0,"paddingOuter":0}},
  "y":{"field":"rb","type":"quantitative","title":null,"scale":{"domain":[-2.7,106],"nice":false,"zero":false},"axis":{"orient":"right","values":[10,20,30,40,50,60,70,80,90],"labelExpr":"datum.value % 20 == 10 ? datum.label : ''","labelOverlap":false,"grid":true,"ticks":false,"domain":false,"title":null,"labelFontSize":8,"labelPadding":4}},"y2":{"datum":30}}},
{"data":{"values":[{"lv":70},{"lv":30}]},"mark":{"type":"rule","color":"#4b9b4b","strokeWidth":2},
 "encoding":{"y":{"field":"lv","type":"quantitative","title":null,"scale":{"domain":[-2.7,106],"nice":false,"zero":false},"axis":{"orient":"right","values":[10,20,30,40,50,60,70,80,90],"labelExpr":"datum.value % 20 == 10 ? datum.label : ''","labelOverlap":false,"grid":true,"ticks":false,"domain":false,"title":null,"labelFontSize":8,"labelPadding":4}}}},
{"data":{"values":[{"lv":50}]},"mark":{"type":"rule","color":"#4b9b4b","strokeWidth":1,"strokeDash":[6,2,1,2]},
 "encoding":{"y":{"field":"lv","type":"quantitative","title":null,"scale":{"domain":[-2.7,106],"nice":false,"zero":false},"axis":{"orient":"right","values":[10,20,30,40,50,60,70,80,90],"labelExpr":"datum.value % 20 == 10 ? datum.label : ''","labelOverlap":false,"grid":true,"ticks":false,"domain":false,"title":null,"labelFontSize":8,"labelPadding":4}}}},
{"data":{"name":"rsi"},
 "mark":{"type":"line","strokeWidth":1,"clip":true},
 "encoding":{
  "x":{"field":"d","type":"ordinal","title":null,"scale":{"type":"band","paddingInner":0,"paddingOuter":0},
   "axis":{"values":["2008-10-13","2008-10-20","2008-10-27","2008-11-03","2008-11-10","2008-11-17","2008-11-24","2008-12-01","2008-12-08","2008-12-15","2008-12-22","2009-01-02","2009-01-12","2009-01-20","2009-01-26","2009-02-02","2009-02-09","2009-02-17","2009-02-23","2009-03-02","2009-03-09","2009-03-16","2009-03-23","2009-04-01","2009-04-06","2009-04-13","2009-04-20","2009-04-27","2009-05-01","2009-05-11","2009-05-18","2009-05-26","2009-06-01","2009-06-08","2009-06-15","2009-06-22","2009-07-01","2009-07-06","2009-07-13","2009-07-20","2009-07-27","2009-08-03","2009-08-10","2009-08-17","2009-08-24","2009-09-01","2009-09-08","2009-09-14","2009-09-21","2009-09-28","2009-10-01"],
    "labels":false,"ticks":false,"domain":false,"grid":true,"title":null}},
  "y":{"field":"r","type":"quantitative","title":null,"scale":{"domain":[-2.7,106],"nice":false,"zero":false},
   "axis":{"orient":"right","values":[10,20,30,40,50,60,70,80,90],"labelExpr":"datum.value % 20 == 10 ? datum.label : ''","labelOverlap":false,"grid":true,"ticks":false,"domain":false,"title":null,"labelFontSize":8,"labelPadding":4}},
  "color":{"datum":"RSI(14) 35.22","type":"nominal","scale":{"range":["#2f852f"]},
   "legend":{"orient":"top-left","offset":1,"padding":0,"title":null,"labelFont":"DejaVu Sans Mono","labelFontSize":8,"labelColor":"#222222","symbolType":"triangle-up","symbolSize":28,"symbolFillColor":"#3c8c3c","symbolStrokeColor":"#2f852f"}}}}
]
},
{
"width":783,"height":360,
"view":{"fill":{"gradient":"linear","x1":0,"y1":0,"x2":0,"y2":1,"stops":[{"offset":0,"color":"#d3e7dd"},{"offset":0.28,"color":"#eaecc4"},{"offset":0.5,"color":"#f4ecb5"},{"offset":0.75,"color":"#f1dfbf"},{"offset":1,"color":"#efd3bb"}]},"stroke":"#a6bcc2"},
"encoding":{
  "y":{"type":"quantitative","title":null,"scale":{"domain":[135.6,176.7],"nice":false,"zero":false},
     "axis":{"orient":"right","values":[136,138,140,142,144,146,148,150,152,154,156,158,160,162,164,166,168,170,172,174,176],"labelOverlap":false,"grid":true,"ticks":false,"domain":false,"title":null,"labelFontSize":8,"labelPadding":4,"labelColor":"#333333"}}
},
"layer":[
{"data":{"name":"candles"},
 "transform":[
  {"window":[{"op":"lag","field":"c","as":"pc"}],"sort":[{"field":"d"}]},
  {"calculate":"datum.pc == null || datum.c >= datum.pc ? 'up' : 'dn'","as":"dir"},
  {"calculate":"min(datum.o,datum.c)","as":"lo"},
  {"calculate":"max(datum.o,datum.c)","as":"hi"}
 ],
 "encoding":{
  "x":{"field":"d","type":"ordinal","title":null,"scale":{"type":"band","paddingInner":0,"paddingOuter":0},
   "axis":{"values":["2008-10-13","2008-10-20","2008-10-27","2008-11-03","2008-11-10","2008-11-17","2008-11-24","2008-12-01","2008-12-08","2008-12-15","2008-12-22","2009-01-02","2009-01-12","2009-01-20","2009-01-26","2009-02-02","2009-02-09","2009-02-17","2009-02-23","2009-03-02","2009-03-09","2009-03-16","2009-03-23","2009-04-01","2009-04-06","2009-04-13","2009-04-20","2009-04-27","2009-05-01","2009-05-11","2009-05-18","2009-05-26","2009-06-01","2009-06-08","2009-06-15","2009-06-22","2009-07-01","2009-07-06","2009-07-13","2009-07-20","2009-07-27","2009-08-03","2009-08-10","2009-08-17","2009-08-24","2009-09-01","2009-09-08","2009-09-14","2009-09-21","2009-09-28","2009-10-01"],
    "labelExpr":"datum.value == '2009-01-02' ? '2009' : (toNumber(substring(datum.value,8,10)) <= 3 ? utcFormat(toDate(datum.value),'%b') : '' + toNumber(substring(datum.value,8,10)))",
    "labelFontWeight":{"condition":{"test":"toNumber(substring(datum.value,8,10)) <= 3","value":"bold"},"value":"normal"},
    "labelFontSize":8,"labelAngle":0,"labelOverlap":false,"labelPadding":1,"labelBound":false,"labelFlush":false,"labelColor":"#222222",
    "ticks":false,"domain":false,"grid":true,"title":null}},
  "stroke":{"field":"dir","type":"nominal","scale":{"domain":["up","dn"],"range":["#000000","#e3111a"]},"legend":null}
 },
 "layer":[
  {"mark":{"type":"rule","strokeWidth":1,"clip":true},
   "encoding":{"y":{"field":"hi"},"y2":{"field":"h"}}},
  {"mark":{"type":"rule","strokeWidth":1,"clip":true},
   "encoding":{"y":{"field":"l"},"y2":{"field":"lo"}}},
  {"mark":{"type":"bar","size":2.3,"strokeWidth":0.8,"clip":true},
   "encoding":{"y":{"field":"o"},"y2":{"field":"c"},
    "fill":{"condition":{"test":"datum.c > datum.o","value":"transparent"},"field":"dir","type":"nominal","scale":{"domain":["up","dn"],"range":["#000000","#e3111a"]},"legend":null}}}
 ]},
{"data":{"name":"ema"},
 "mark":{"type":"line","clip":true},
 "encoding":{
  "x":{"field":"d","type":"ordinal","title":null,"scale":{"type":"band","paddingInner":0,"paddingOuter":0}},
  "y":{"field":"v"},
  "strokeWidth":{"condition":{"test":"datum.s == 'EMA(200) 161.24'","value":2},"value":1},
  "color":{"field":"s","type":"nominal",
   "scale":{"domain":["$XBP (Daily) 159.39","EMA(20) 161.83","EMA(50) 162.80","EMA(200) 161.24","Volume undef"],"range":["#444444","#3b3ba3","#f04040","#000000","#3a9a3a"]},
   "legend":{"orient":"top-left","offset":2,"padding":0,"title":null,"labelFont":"DejaVu Sans","labelFontSize":7.5,"rowPadding":-1,"symbolType":"stroke","symbolSize":30,"symbolStrokeWidth":2.5,"labelOffset":2,"labelLimit":0,
    "encode":{"labels":{"update":{"fill":{"signal":"datum.value == 'EMA(20) 161.83' ? '#3b3ba3' : datum.value == 'EMA(50) 162.80' ? '#f04040' : datum.value == 'Volume undef' ? '#3a9a3a' : datum.value == 'EMA(200) 161.24' ? '#111111' : '#333333'"}}}}}}}},
{"data":{"name":"trend"},
 "mark":{"type":"line","clip":true},
 "encoding":{
  "x":{"field":"d","type":"ordinal","title":null,"scale":{"type":"band","paddingInner":0,"paddingOuter":0}},
  "y":{"field":"v"},
  "detail":{"field":"g","type":"nominal"},
  "stroke":{"condition":{"test":"datum.g == 'up'","value":"#ff1a1a"},"value":"#1d1de8"},
  "strokeWidth":{"condition":{"test":"datum.g == 'up'","value":2.5},"value":1.8}}},
{"data":{"name":"pointer"},
 "mark":{"type":"line","stroke":"#777777","strokeWidth":0.8,"fill":"#ffffff","clip":true},
 "encoding":{
  "x":{"field":"d","type":"ordinal","title":null,"scale":{"type":"band","paddingInner":0,"paddingOuter":0}},
  "y":{"field":"v"},
  "order":{"field":"k","type":"quantitative"}}},
{"data":{"name":"note"},
 "mark":{"type":"bar","size":49,"fill":"#ffffff","stroke":"#555555","strokeWidth":1,"clip":true},
 "encoding":{
  "x":{"field":"d","type":"ordinal","title":null,"scale":{"type":"band","paddingInner":0,"paddingOuter":0}},
  "y":{"field":"v1"},"y2":{"field":"v2"}}},
{"data":{"name":"note"},
 "mark":{"type":"text","font":"Liberation Sans","fontWeight":"bold","fontSize":8,"color":"#1a1aee","align":"center","baseline":"middle"},
 "encoding":{
  "x":{"field":"d","type":"ordinal","title":null,"scale":{"type":"band","paddingInner":0,"paddingOuter":0}},
  "y":{"field":"vm"},
  "text":{"field":"t"}}}
]
}
],
"config":{"font":"DejaVu Sans","axis":{"gridColor":"#a9a998","gridOpacity":0.45,"labelFont":"DejaVu Sans","labelColor":"#333333","labelOverlap":false},"legend":{"labelColor":"#333333"}}
}
